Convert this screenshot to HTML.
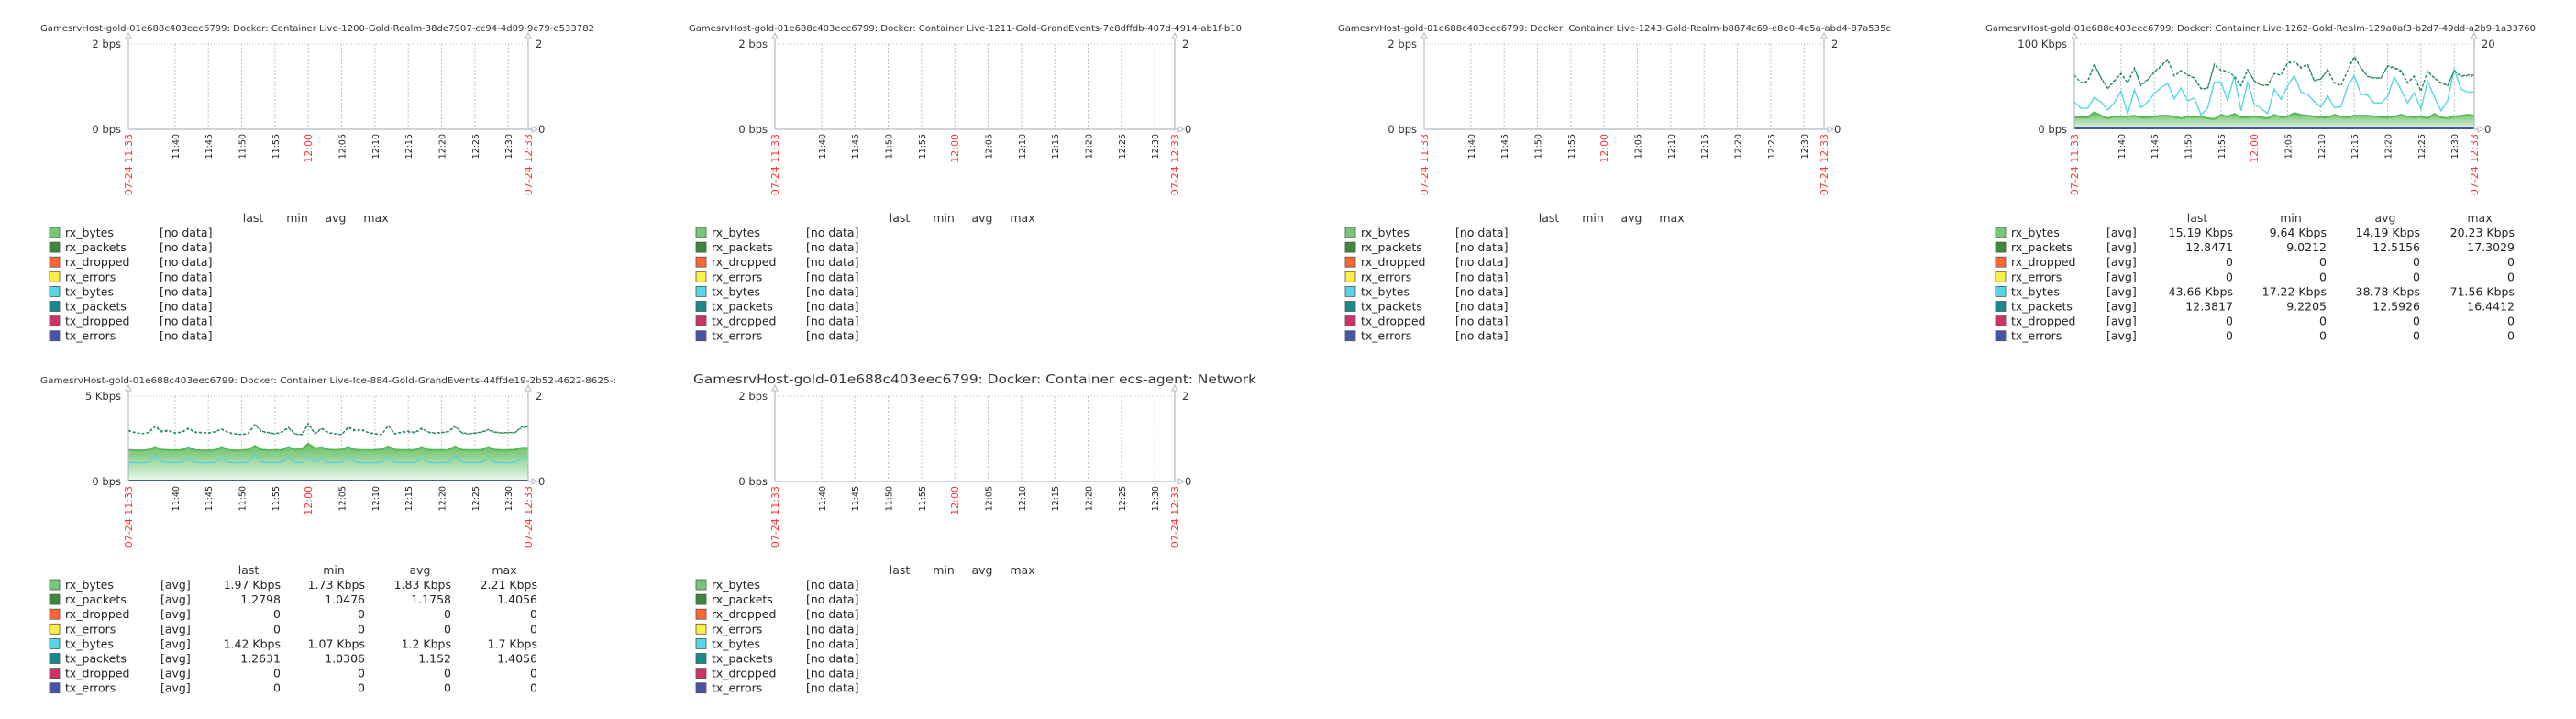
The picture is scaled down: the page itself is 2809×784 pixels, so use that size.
<!DOCTYPE html>
<html><head><meta charset="utf-8">
<style>
html,body{margin:0;padding:0;background:#fff;}
svg{display:block;font-family:"DejaVu Sans","Liberation Sans",sans-serif;}
</style></head>
<body>
<svg id="root" width="2809" height="784" viewBox="0 0 2809 784" xmlns="http://www.w3.org/2000/svg">
<defs>
<linearGradient id="gfill" x1="0" y1="0" x2="0" y2="1">
<stop offset="0" stop-color="#5fbf5f"/>
<stop offset="1" stop-color="#eef8ee"/>
</linearGradient>
</defs>
</svg>
<script>
// ---- data ----
const seriesNames = ["rx_bytes","rx_packets","rx_dropped","rx_errors","tx_bytes","tx_packets","tx_dropped","tx_errors"];
const seriesColors = ["#77c777","#3a8a3a","#ff6633","#ffee44","#55d6e6","#1a8a8f","#cc3366","#4455aa"];
const tickLabels = ["11:40","11:45","11:50","11:55","12:00","12:05","12:10","12:15","12:20","12:25","12:30"];
const tickMinutes = [7,12,17,22,27,32,37,42,47,52,57];

// chart 4 (Live-1262) values, one per minute
const c4RxBytes = [14,14,14,20,16,13,15,15,15,16,14,14,15,16,16,15,13,15,14,15,13,12,17,15,18,14,14,15,14,13,17,14,15,19,17,16,15,14,14,17,15,14,16,16,16,15,14,14,15,17,15,14,15,13,18,14,13,15,16,17,16];
const c4TxBytes = [32,24.7,24.7,37.5,32,22.5,31,44.7,18.2,46.2,25.5,32,41.8,49,53.8,35.6,48.4,33.5,36.4,17.1,24.7,55.3,55.3,33.5,62.9,21.8,55.3,29.1,24.7,18.2,47.3,35.3,50.9,62.9,43.6,40.7,32.7,26.2,39.3,25.5,26.5,50.2,62.9,41.1,40,30.9,30.9,38.2,61.8,46.5,30.9,42.5,24,56.4,38.2,21.8,33.5,70.9,47.3,43.6,43.6];
const c4RxPackets = [12.7,10.9,11.3,15.3,12,9.5,11.3,13.1,10.9,14.4,10.3,11.6,13.5,14.9,16.4,12.5,13.8,12.7,12,9.5,9.5,15.3,13.8,13.7,12.4,10.2,14,11.3,10.3,10.3,13.1,12.7,15.6,16,14.5,15.3,11.3,11.8,14,10.9,10.2,13.8,17.1,14.5,12.4,12,12,14.9,14.5,13.8,10.9,12.4,8.9,13.7,12,10.9,10.2,13.8,12.5,12.7,12.7];
const c4TxPackets = [12.5,11,11.2,15,12.2,9.6,11.5,12.9,11,14.2,10.4,11.8,13.3,14.7,16.2,12.6,13.6,12.8,12.1,9.6,9.7,15,13.9,13.5,12.5,10.3,13.8,11.4,10.4,10.4,13,12.8,15.4,15.8,14.3,15,11.4,11.9,13.8,11,10.3,13.7,16.9,14.3,12.5,12.1,12.1,14.7,14.3,13.6,11,12.5,9,13.5,12.1,11,10.3,13.6,12.4,12.6,12.4];

// chart 5 (Live-Ice-884) values, one per minute
const c5RxBytes = [1.85,1.82,1.82,1.85,2.02,1.86,1.84,1.83,1.85,2.0,1.85,1.82,1.83,1.85,2.02,1.85,1.82,1.83,1.86,2.08,1.86,1.83,1.84,1.85,2.02,1.86,1.9,2.21,1.95,2.0,1.86,1.85,1.87,2.02,1.86,1.84,1.84,1.85,1.88,2.05,1.86,1.84,1.85,1.85,2.02,1.86,1.84,1.84,1.85,2.05,1.86,1.84,1.84,1.85,2.02,1.86,1.84,1.84,1.86,1.97,1.97];
const c5TxBytes = [1.12,1.1,1.1,1.12,1.55,1.15,1.12,1.1,1.12,1.4,1.12,1.1,1.1,1.12,1.4,1.12,1.1,1.1,1.12,1.6,1.15,1.1,1.1,1.12,1.4,1.12,1.08,1.45,1.12,1.4,1.12,1.1,1.12,1.45,1.15,1.1,1.1,1.1,1.12,1.42,1.12,1.1,1.12,1.1,1.38,1.12,1.1,1.1,1.12,1.5,1.15,1.1,1.1,1.12,1.35,1.12,1.1,1.1,1.12,1.42,1.42];
const c5RxPackets = [1.2,1.15,1.12,1.15,1.3,1.18,1.2,1.14,1.16,1.25,1.16,1.15,1.14,1.17,1.23,1.15,1.12,1.1,1.13,1.35,1.18,1.15,1.12,1.16,1.27,1.12,1.1,1.36,1.12,1.25,1.15,1.12,1.1,1.28,1.2,1.22,1.15,1.12,1.1,1.32,1.12,1.16,1.18,1.15,1.25,1.16,1.14,1.15,1.17,1.3,1.15,1.12,1.14,1.16,1.22,1.16,1.14,1.15,1.15,1.28,1.28];
const c5TxPackets = [1.18,1.14,1.12,1.14,1.28,1.16,1.18,1.13,1.15,1.23,1.15,1.14,1.13,1.16,1.22,1.14,1.11,1.1,1.12,1.33,1.16,1.14,1.11,1.15,1.25,1.11,1.09,1.33,1.11,1.23,1.14,1.11,1.1,1.26,1.18,1.2,1.14,1.11,1.1,1.3,1.11,1.15,1.16,1.14,1.23,1.15,1.13,1.14,1.16,1.28,1.14,1.11,1.13,1.15,1.2,1.15,1.13,1.14,1.14,1.26,1.26];

const c4Stats = [["15.19 Kbps","9.64 Kbps","14.19 Kbps","20.23 Kbps"],["12.8471","9.0212","12.5156","17.3029"],["0","0","0","0"],["0","0","0","0"],["43.66 Kbps","17.22 Kbps","38.78 Kbps","71.56 Kbps"],["12.3817","9.2205","12.5926","16.4412"],["0","0","0","0"],["0","0","0","0"]];
const c5Stats = [["1.97 Kbps","1.73 Kbps","1.83 Kbps","2.21 Kbps"],["1.2798","1.0476","1.1758","1.4056"],["0","0","0","0"],["0","0","0","0"],["1.42 Kbps","1.07 Kbps","1.2 Kbps","1.7 Kbps"],["1.2631","1.0306","1.152","1.4056"],["0","0","0","0"],["0","0","0","0"]];

const host = "GamesrvHost-gold-01e688c403eec6799: Docker: Container ";
const svg = document.getElementById('root');
const NS = "http://www.w3.org/2000/svg";
function mk(tag, attrs, parent, txt){
  const e = document.createElementNS(NS, tag);
  for (const k in attrs) e.setAttribute(k, attrs[k]);
  if (txt !== undefined) e.textContent = txt;
  (parent||svg).appendChild(e);
  return e;
}

function panel(cfg){
  const g = mk('g', {});
  
  
  const ox = cfg.ox, oy = cfg.oy;
  const L = ox + 140, R = ox + 576, T = oy + 48, B = oy + 141;
  const W = R - L, H = B - T;
  const xs = i => L + i / 60 * W;
  const yL = v => B - v / cfg.leftMax * H;
  const yR = v => B - v / cfg.rightMax * H;

  const t = mk('text', {x: cfg.titleX, y: cfg.titleY, 'font-size': cfg.titleSize, fill: '#333', textLength: cfg.titleLen, lengthAdjust: 'spacingAndGlyphs'}, g, cfg.title);
  
  

  // grid
  mk('line', {x1: L, y1: T, x2: R, y2: T, stroke: '#b8c4cc', 'stroke-dasharray': '1,2', 'stroke-width': 1}, g);
  tickMinutes.forEach(m => {
    mk('line', {x1: xs(m), y1: T, x2: xs(m), y2: B, stroke: '#b8c4cc', 'stroke-dasharray': '2,2', 'stroke-width': 1}, g);
  });

  // series
  if (cfg.rxBytes) {
    let d = 'M' + xs(0) + ',' + B;
    cfg.rxBytes.forEach((v, i) => { d += ' L' + xs(i) + ',' + yL(v); });
    d += ' L' + xs(cfg.rxBytes.length - 1) + ',' + B + ' Z';
    const a = mk('path', {d: d, fill: 'url(#gfill)', stroke: 'none'}, g);
    
    
    const l = mk('polyline', {points: cfg.rxBytes.map((v, i) => xs(i) + ',' + yL(v)).join(' '), fill: 'none', stroke: '#5cb85c', 'stroke-width': 2}, g);
    
    
    const tx = mk('polyline', {points: cfg.txBytes.map((v, i) => xs(i) + ',' + yL(v)).join(' '), fill: 'none', stroke: '#55d6e6', 'stroke-width': 1.4}, g);
    
    
    const rp = mk('polyline', {points: cfg.rxPackets.map((v, i) => xs(i) + ',' + yR(v)).join(' '), fill: 'none', stroke: '#2e7d32', 'stroke-width': 1.3, 'stroke-dasharray': '3,2'}, g);
    
    
    const tp = mk('polyline', {points: cfg.txPackets.map((v, i) => xs(i) + ',' + yR(v)).join(' '), fill: 'none', stroke: '#1a8a8f', 'stroke-width': 1.3, 'stroke-dasharray': '2,3'}, g);
    
    
    const z = mk('line', {x1: L, y1: B - 1, x2: R, y2: B - 1, stroke: '#4455aa', 'stroke-width': 2}, g);
    
    
  }

  // axes
  const ax = '#b0bcc4';
  mk('line', {x1: L, y1: T - 8, x2: L, y2: B, stroke: ax, 'stroke-width': 1.2}, g);
  mk('line', {x1: R, y1: T - 8, x2: R, y2: B, stroke: ax, 'stroke-width': 1.2}, g);
  if (!cfg.rxBytes) mk('line', {x1: L, y1: B, x2: R + 4, y2: B, stroke: ax, 'stroke-width': 1.2}, g);
  else mk('line', {x1: R, y1: B, x2: R + 4, y2: B, stroke: ax, 'stroke-width': 1.2}, g);
  mk('path', {d: `M${L-3},${T-6} L${L},${T-12} L${L+3},${T-6} Z`, fill: '#fff', stroke: ax}, g);
  mk('path', {d: `M${R-3},${T-6} L${R},${T-12} L${R+3},${T-6} Z`, fill: '#fff', stroke: ax}, g);
  mk('path', {d: `M${R+4},${B-3} L${R+10},${B} L${R+4},${B+3} Z`, fill: '#fff', stroke: ax}, g);

  // y labels
  const yt = mk('text', {x: L - 8, y: T + 4, 'font-size': 11.5, fill: '#333', 'text-anchor': 'end'}, g, cfg.leftTop);
  
  
  const yb = mk('text', {x: L - 8, y: B + 4, 'font-size': 11.5, fill: '#333', 'text-anchor': 'end'}, g, '0 bps');
  
  
  mk('text', {x: R + 8, y: T + 4, 'font-size': 11.5, fill: '#333'}, g, cfg.rightTop);
  mk('text', {x: R + 11, y: B + 4, 'font-size': 11.5, fill: '#333'}, g, '0');

  // x tick labels
  function vlabel(x, txt, red){
    const e = mk('text', {x: 0, y: 0, 'font-size': red ? 11 : 9.5, fill: red ? '#ff3333' : '#222', 'text-anchor': 'end', transform: `translate(${x + 4},${B + 5}) rotate(-90)`}, g, txt);
    
    
  }
  tickMinutes.forEach((m, i) => vlabel(xs(m), tickLabels[i], tickLabels[i] === '12:00'));
  vlabel(L, '07-24 11:33', true);
  vlabel(R, '07-24 12:33', true);

  // legend
  const lg = mk('g', {}, g);
  
  
  const hy = oy + 242;
  const fs = 12.5;
  const heads = ['last', 'min', 'avg', 'max'];
  heads.forEach((h, k) => {
    mk('text', {x: ox + cfg.headX[k], y: hy, 'font-size': fs, fill: '#333', 'text-anchor': 'middle'}, lg, h);
  });
  seriesNames.forEach((n, i) => {
    const ry = oy + 258 + i * 16.1;
    const e = mk('g', {}, lg);
    
    
    mk('rect', {x: ox + 54, y: ry - 10, width: 11, height: 11, fill: seriesColors[i], stroke: '#555', 'stroke-width': 0.8}, e);
    mk('text', {x: ox + 71, y: ry, 'font-size': fs, fill: '#222'}, e, n);
    if (!cfg.stats) {
      mk('text', {x: ox + 174, y: ry, 'font-size': fs, fill: '#222'}, e, '[no data]');
    } else {
      mk('text', {x: ox + cfg.avgX, y: ry, 'font-size': fs, fill: '#222'}, e, '[avg]');
      cfg.stats[i].forEach((v, k) => {
        mk('text', {x: ox + cfg.colR[k], y: ry, 'font-size': fs, fill: '#222', 'text-anchor': 'end'}, e, v);
      });
    }
  });
}

const emptyHead = [276, 324, 366, 410];
panel({name: 'chart-live-1200', ox: 0, oy: 0, title: host + 'Live-1200-Gold-Realm-38de7907-cc94-4d09-9c79-e533782', titleX: 44, titleY: 34, titleSize: 10, titleLen: 604, leftMax: 2, rightMax: 2, leftTop: '2 bps', rightTop: '2', headX: emptyHead});
panel({name: 'chart-live-1211', ox: 705, oy: 0, title: host + 'Live-1211-Gold-GrandEvents-7e8dffdb-407d-4914-ab1f-b10', titleX: 751, titleY: 34, titleSize: 10, titleLen: 603, leftMax: 2, rightMax: 2, leftTop: '2 bps', rightTop: '2', headX: emptyHead});
panel({name: 'chart-live-1243', ox: 1413, oy: 0, title: host + 'Live-1243-Gold-Realm-b8874c69-e8e0-4e5a-abd4-87a535c', titleX: 1459, titleY: 34, titleSize: 10, titleLen: 603, leftMax: 2, rightMax: 2, leftTop: '2 bps', rightTop: '2', headX: emptyHead});
panel({name: 'chart-live-1262', ox: 2122, oy: 0, title: host + 'Live-1262-Gold-Realm-129a0af3-b2d7-49dd-a2b9-1a33760', titleX: 2165, titleY: 34, titleSize: 10, titleLen: 600, leftMax: 100, rightMax: 20, leftTop: '100 Kbps', rightTop: '20',
  rxBytes: c4RxBytes, txBytes: c4TxBytes, rxPackets: c4RxPackets, txPackets: c4TxPackets, stats: c4Stats, avgX: 175, colR: [313, 415, 517, 620], headX: [274, 376, 479, 582]});
panel({name: 'chart-live-ice-884', ox: 0, oy: 384, title: host + 'Live-Ice-884-Gold-GrandEvents-44ffde19-2b52-4622-8625-:', titleX: 44, titleY: 418, titleSize: 10, titleLen: 628, leftMax: 5, rightMax: 2, leftTop: '5 Kbps', rightTop: '2',
  rxBytes: c5RxBytes, txBytes: c5TxBytes, rxPackets: c5RxPackets, txPackets: c5TxPackets, stats: c5Stats, avgX: 175, colR: [306, 398, 492, 586], headX: [271, 364, 458, 550]});
panel({name: 'chart-ecs-agent', ox: 705, oy: 384, title: host + 'ecs-agent: Network', titleX: 756, titleY: 418, titleSize: 13, titleLen: 614, leftMax: 2, rightMax: 2, leftTop: '2 bps', rightTop: '2', headX: emptyHead});
</script>
</body></html>
